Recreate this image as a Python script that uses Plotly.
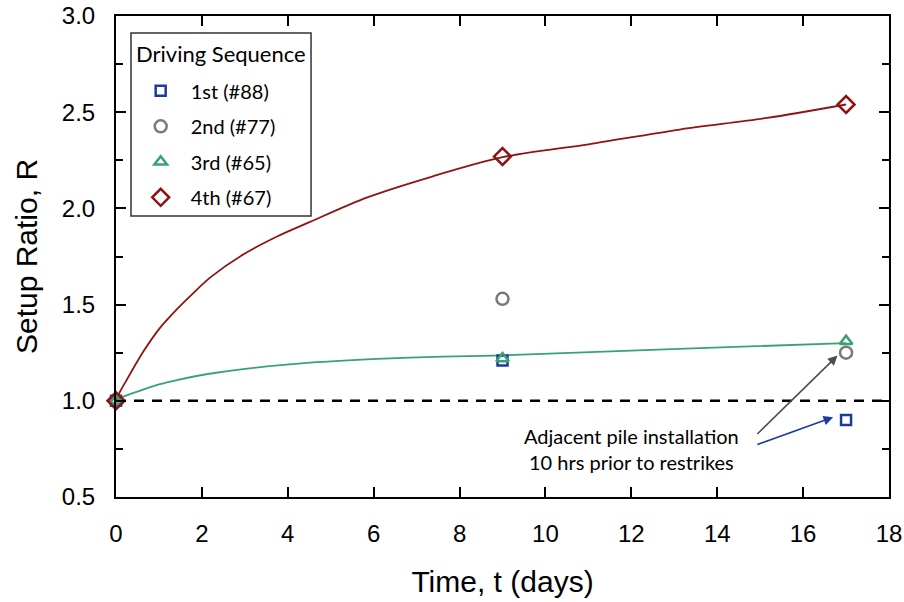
import plotly.graph_objects as go

# Measured setup ratios at each restrike time (days)
t_days = [0, 9, 17]
r_first = [1.00, 1.21, 0.90]    # 1st (#88)
r_second = [1.00, 1.53, 1.25]   # 2nd (#77)
r_third = [1.00, 1.22, 1.31]    # 3rd (#65)
r_fourth = [1.00, 2.27, 2.54]   # 4th (#67)

# Trend curves through the 4th and 3rd pile data
trend_t_fourth = [0, 0.1, 0.25, 0.64, 1.02, 1.41, 1.80, 2.19, 2.96, 3.75, 4.52, 5.85, 7.38, 9.0, 11.0, 13.13, 15.16, 17.0]
trend_r_fourth = [1.0, 1.05, 1.109, 1.257, 1.378, 1.474, 1.56, 1.64, 1.76, 1.854, 1.93, 2.057, 2.167, 2.266, 2.333, 2.41, 2.47, 2.54]
trend_t_third = [0, 0.2, 0.63, 1.0, 1.42, 2.1, 2.96, 4.52, 6.08, 7.6, 9.0, 13.1, 17.0]
trend_r_third = [1.0, 1.024, 1.058, 1.085, 1.108, 1.138, 1.165, 1.198, 1.218, 1.23, 1.236, 1.27, 1.30]

x_ticks = list(range(0, 19, 2))
y_ticks = [0.5, 1.0, 1.5, 2.0, 2.5, 3.0]

RED = "#8e1414"
GREEN = "#38a274"
BLUE = "#1a3d9a"
GRAY = "#7a7a7a"
LEG_FONT = "Lato, Carlito, Calibri, sans-serif"
AX_FONT = "Arial, Liberation Sans, sans-serif"

fig = go.Figure()

# baseline R = 1
fig.add_trace(go.Scatter(x=[0, 18], y=[1, 1], mode="lines",
                         line=dict(color="black", width=2.5, dash="10px,8px"),
                         showlegend=False, hoverinfo="skip"))

fig.add_trace(go.Scatter(x=trend_t_fourth, y=trend_r_fourth, mode="lines",
                         line=dict(color=RED, width=1.8, shape="spline", smoothing=0.8),
                         showlegend=False, hoverinfo="skip"))
fig.add_trace(go.Scatter(x=trend_t_third, y=trend_r_third, mode="lines",
                         line=dict(color=GREEN, width=1.8, shape="spline", smoothing=0.8),
                         showlegend=False, hoverinfo="skip"))

series = [
    ("1st (#88)", r_first, "square-open", BLUE, 10),
    ("2nd (#77)", r_second, "circle-open", GRAY, 12),
    ("3rd (#65)", r_third, "triangle-up-open", GREEN, 11),
    ("4th (#67)", r_fourth, "diamond-open", RED, 13),
]
for i, (name, vals, sym, col, size) in enumerate(series):
    fig.add_trace(go.Scatter(
        x=t_days, y=vals, mode="markers", name=name, legendgroup=f"g{i}",
        marker=dict(symbol=sym, size=size, color=col, line=dict(color=col, width=2.5)),
        cliponaxis=False))

# Arrows pointing at the affected restrike points
fig.add_annotation(x=16.8, y=1.235, ax=14.9, ay=0.82, xref="x", yref="y", axref="x", ayref="y",
                   showarrow=True, arrowhead=2, arrowsize=1.2, arrowwidth=1.6, arrowcolor="#4d4d4d", text="")
fig.add_annotation(x=16.7, y=0.915, ax=14.9, ay=0.77, xref="x", yref="y", axref="x", ayref="y",
                   showarrow=True, arrowhead=2, arrowsize=1.2, arrowwidth=1.6, arrowcolor=BLUE, text="")
fig.add_annotation(x=12.0, y=0.748, xref="x", yref="y", showarrow=False,
                   text="Adjacent pile installation<br>10 hrs prior to restrikes",
                   font=dict(family=LEG_FONT, size=20, color="black"), align="center")

# Legend frame and heading
fig.add_shape(type="rect", xref="paper", yref="paper", x0=0.0194, x1=0.2523, y0=0.5842, y1=0.9647,
              line=dict(color="#333333", width=1.5), fillcolor="white", layer="below")
fig.add_annotation(x=0.1358, y=0.923, xref="paper", yref="paper", xanchor="center", yanchor="middle",
                   showarrow=False, text="Driving Sequence",
                   font=dict(family=LEG_FONT, size=22, color="black"))

axis_common = dict(showline=True, linecolor="black", linewidth=2, mirror="ticks",
                   ticks="inside", ticklen=10, tickwidth=2, tickcolor="black",
                   showgrid=False, zeroline=False, automargin=False)

fig.update_xaxes(range=[0, 18], tickvals=x_ticks, ticktext=[str(v) for v in x_ticks],
                 tickfont=dict(family=AX_FONT, size=24, color="black"),
                 ticklabelstandoff=14,
                 title=dict(text="Time, t (days)", font=dict(family=AX_FONT, size=30, color="black"),
                            standoff=25),
                 **axis_common)
fig.update_yaxes(range=[0.5, 3.0], tickvals=y_ticks, ticktext=[f"{v:.1f}" for v in y_ticks],
                 tickfont=dict(family=AX_FONT, size=24, color="black"),
                 ticklabelstandoff=14,
                 minor=dict(dtick=0.25, tick0=0.5, ticks="inside", ticklen=7, tickwidth=1.5,
                            tickcolor="black"),
                 title=dict(text="Setup Ratio, R", font=dict(family=AX_FONT, size=30, color="black"),
                            standoff=15),
                 **axis_common)

fig.update_layout(
    width=904, height=602,
    margin=dict(l=116, r=15, t=16, b=105),
    paper_bgcolor="white", plot_bgcolor="white",
    showlegend=True,
    legend=dict(
        x=0.019, y=0.885, xanchor="left", yanchor="top",
        font=dict(family=LEG_FONT, size=20, color="black"),
        borderwidth=0, bgcolor="rgba(0,0,0,0)",
        tracegroupgap=6.5, itemwidth=50,
    ),
)

fig.write_html("out.html")
